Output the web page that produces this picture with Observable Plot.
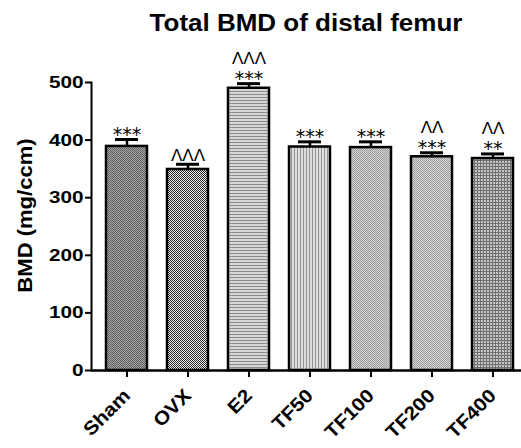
<!DOCTYPE html>
<html><head><meta charset="utf-8">
<script src="https://cdn.jsdelivr.net/npm/d3@7"></script>
<script src="https://cdn.jsdelivr.net/npm/@observablehq/plot@0.6"></script>
<style>
body{margin:0;background:#fff;font-family:"Liberation Sans",Arial,sans-serif;}
#title{height:40px;width:521px;position:relative;}
#title span{position:absolute;top:12px;left:306px;transform:translateX(-50%) scaleX(1.13);font-weight:bold;font-size:23px;line-height:23px;white-space:nowrap;color:#000;}
</style></head><body>
<svg width="0" height="0" style="position:absolute">
<defs>
<pattern id="pat0" width="2" height="2" patternUnits="userSpaceOnUse"><rect width="2" height="2" fill="#a8a8a8"/><rect width="1" height="1" fill="#555"/><rect x="1" y="1" width="1" height="1" fill="#666"/></pattern>
<pattern id="pat1" width="2" height="2" patternUnits="userSpaceOnUse"><rect width="2" height="2" fill="#f2f2f2"/><rect width="1" height="1" fill="#222"/><rect x="1" y="1" width="1" height="1" fill="#222"/></pattern>
<pattern id="pat2" width="3" height="3" patternUnits="userSpaceOnUse"><rect width="3" height="3" fill="#d6d6d6"/><rect width="3" height="1" fill="#8c8c8c"/></pattern>
<pattern id="pat3" width="3" height="3" patternUnits="userSpaceOnUse"><rect width="3" height="3" fill="#dddddd"/><rect width="1" height="3" fill="#959595"/></pattern>
<pattern id="pat4" width="2" height="2" patternUnits="userSpaceOnUse"><rect width="2" height="2" fill="#d2d2d2"/><rect width="1" height="1" fill="#999"/><rect x="1" y="1" width="1" height="1" fill="#a4a4a4"/></pattern>
<pattern id="pat5" width="2" height="2" patternUnits="userSpaceOnUse"><rect width="2" height="2" fill="#d4d4d4"/><rect width="1" height="1" fill="#9a9a9a"/><rect x="1" y="1" width="1" height="1" fill="#a6a6a6"/></pattern>
<pattern id="pat6" width="3" height="3" patternUnits="userSpaceOnUse"><rect width="3" height="3" fill="#c4c4c4"/><rect width="3" height="1" fill="#707070"/><rect width="1" height="3" fill="#707070"/></pattern>
</defs></svg>
<div id="title"><span>Total BMD of distal femur</span></div>
<div id="chart"></div>
<script>
const groups = ["Sham", "OVX", "E2", "TF50", "TF100", "TF200", "TF400"];
const means = [389, 349, 490, 388, 387, 371, 368];
const errs = [12, 9, 8, 9, 10, 7, 8];
const stars = ["***", "", "***", "***", "***", "***", "**"];
const carets = ["", "ΛΛΛ", "ΛΛΛ", "", "", "ΛΛ", "ΛΛ"];
const yTicks = [0, 100, 200, 300, 400, 500];
const yLabel = "BMD (mg/ccm)";

const data = groups.map((g, i) => ({
  group: g, mean: means[i], hi: means[i] + errs[i],
  pattern: `url(#pat${i})`, stars: stars[i], carets: carets[i]
}));

const chart = Plot.plot({
  width: 521, height: 408,
  marginLeft: 91, marginRight: 0, marginTop: 42, marginBottom: 78,
  style: {fontFamily: '"Liberation Sans", Arial, sans-serif', fontSize: "17px", fontWeight: "bold", color: "#000", background: "#fff", overflow: "visible"},
  x: {domain: groups, range: [91, 528], paddingInner: 0.333, paddingOuter: 0.22, label: null},
  y: {domain: [0, 500], label: null},
  color: {type: "identity"},
  marks: [
    Plot.barY(data, {x: "group", y: "mean", fill: "pattern", stroke: "#000", strokeWidth: 2.5}),
    Plot.ruleX(data, {x: "group", y1: "mean", y2: "hi", stroke: "#000", strokeWidth: 2.5}),
    Plot.tickY(data, {x: "group", y: "hi", stroke: "#000", strokeWidth: 3, insetLeft: 9, insetRight: 9}),
    Plot.text(data.filter(d => d.stars), {x: "group", y: "hi", text: "stars", dy: -5, fontFamily: "DejaVu Sans", fontWeight: "normal", fontSize: 19, lineAnchor: "middle"}),
    Plot.text(data.filter(d => d.carets && d.stars), {x: "group", y: "hi", text: "carets", dy: -25, fontWeight: "normal", fontSize: 17, lineAnchor: "middle"}),
    Plot.text(data.filter(d => d.carets && !d.stars), {x: "group", y: "hi", text: "carets", dy: -9, fontWeight: "normal", fontSize: 17, lineAnchor: "middle"}),
    Plot.axisY({ticks: yTicks, tickSize: 6, tickPadding: 2, strokeWidth: 2, label: null, fontSize: 17}),
    Plot.axisX({tickSize: 7, tickRotate: -45, tickPadding: 15, strokeWidth: 2, label: null, fontSize: 19}),
    Plot.frame({anchor: "left", strokeWidth: 2}),
    Plot.ruleY([0], {strokeWidth: 2.5}),
    Plot.text([yLabel], {frameAnchor: "left", textAnchor: "middle", rotate: -90, dx: -66, dy: -11, fontSize: 21, fontWeight: "bold"})
  ]
});
document.getElementById("chart").append(chart);

function stretch(el, f) {
  const tr = el.getAttribute("transform") || "";
  el.setAttribute("transform", `${tr} scale(${f},1)`);
}
chart.querySelectorAll('g[aria-label="y-axis tick label"] text').forEach(t => stretch(t, 1.22));
chart.querySelectorAll('g[aria-label="x-axis tick label"] text').forEach(t => stretch(t, 1.1));
chart.querySelectorAll('text').forEach(t => { if (t.textContent === yLabel) stretch(t, 1.05); });
</script>
</body></html>
